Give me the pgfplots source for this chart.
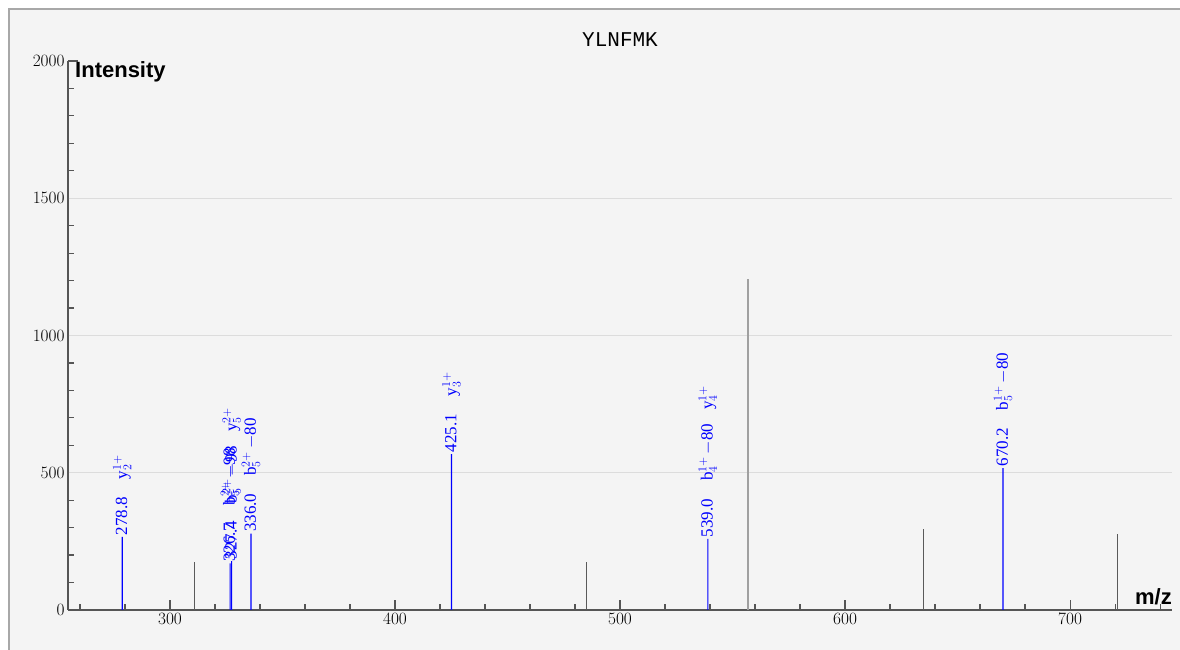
\documentclass[border=0pt]{standalone}
\usepackage{pgfplots}
\pgfplotsset{compat=1.18}
\usepackage{fontspec}
\setmainfont{Liberation Serif}
\newfontfamily\monofont{Liberation Mono}
\newfontfamily\sansfont{Liberation Sans}
\definecolor{panel}{HTML}{F4F4F4}
\definecolor{framec}{HTML}{A8A8A8}
\definecolor{axisgray}{HTML}{555555}
\definecolor{gridc}{HTML}{DCDCDC}
\definecolor{peakgray}{HTML}{5A5A5A}
\definecolor{peaklight}{HTML}{A0A0A0}
\definecolor{ionblue}{RGB}{0,0,255}

\begin{document}
\begin{tikzpicture}
\path[use as bounding box, fill=white] (-68pt,-40pt) rectangle (1112pt,610pt);
\fill[panel] (-59pt,-40pt) rectangle (1112pt,601pt);
\draw[framec, line width=2pt] (-59pt,-41pt) -- (-59pt,601pt) -- (1113pt,601pt);
\begin{axis}[
  at={(0pt,0pt)}, anchor=south west,
  scale only axis, width=1104pt, height=549pt,
  xmin=254.67, xmax=745.3, ymin=0, ymax=2000,
  axis x line*=bottom, axis y line*=left,
  axis line style={axisgray, line width=1.5pt},
  xtick={300,400,...,700}, minor xtick={260,280,...,740},
  ytick={0,500,...,2000}, minor ytick={100,200,...,1900},
  tick align=inside, major tick length=10pt, minor tick length=6pt,
  every tick/.style={axisgray, line width=1.2pt},
  ticklabel style={font=\fontsize{16.5}{16.5}\selectfont},
  /pgf/number format/1000 sep={},
  scaled ticks=false,
  clip=false,
]
\draw[gridc, line width=1pt] (axis cs:254.9,500) -- (axis cs:745.3,500);
\draw[gridc, line width=1pt] (axis cs:254.9,1000) -- (axis cs:745.3,1000);
\draw[gridc, line width=1pt] (axis cs:254.9,1500) -- (axis cs:745.3,1500);
\addplot[ycomb, peakgray, line width=1pt, no markers] coordinates {
  (310.7,175) (485.3,175) (634.7,295) (720.9,277)
};
\addplot[ycomb, peaklight, line width=2pt, no markers] coordinates {
  (556.9,1206)
};
\addplot[ybar, bar width=1.1pt, fill=ionblue, draw=none, no markers] coordinates {
  (278.8,266) (326.7,170) (327.4,178) (336.0,278) (425.1,568) (539.0,259) (670.2,517)
};
\coordinate (p1) at (axis cs:278.8,266);
\coordinate (p2) at (axis cs:326.7,170);
\coordinate (p3) at (axis cs:327.4,178);
\coordinate (p4) at (axis cs:336.0,278);
\coordinate (p5) at (axis cs:425.1,568);
\coordinate (p6) at (axis cs:539.0,259);
\coordinate (p7) at (axis cs:670.2,517);
\end{axis}
\begin{scope}[every node/.style={rotate=90, anchor=west, text=ionblue, inner sep=1.5pt,
    font=\fontsize{17}{17}\selectfont}]
\node at (p1) {278.8\hspace{18pt}y$_2^{1+}$};
\node at (p2) {326.7\hspace{18pt}b$_5^{2+}$\,$-$98};
\node at (p3) {327.4\hspace{18pt}b$_5^{2+}$\,$-$98\hspace{14pt}y$_5^{2+}$};
\node at (p4) {336.0\hspace{18pt}b$_5^{2+}$\,$-$80};
\node at (p5) {425.1\hspace{18pt}y$_3^{1+}$};
\node at (p6) {539.0\hspace{18pt}b$_4^{1+}$\,$-$80\hspace{14pt}y$_4^{1+}$};
\node at (p7) {670.2\hspace{18pt}b$_5^{1+}$\,$-$80};
\end{scope}
\node[font=\monofont\fontsize{21}{21}\selectfont] at (552pt,570pt) {YLNFMK};
\node[anchor=west, inner sep=0pt, font=\sansfont\bfseries\fontsize{22}{22}\selectfont] at (7pt,538pt) {Intensity};
\node[anchor=base east, inner sep=0pt, font=\sansfont\bfseries\fontsize{22}{22}\selectfont] at (1104pt,5pt) {m/z};
\end{tikzpicture}
\end{document}
